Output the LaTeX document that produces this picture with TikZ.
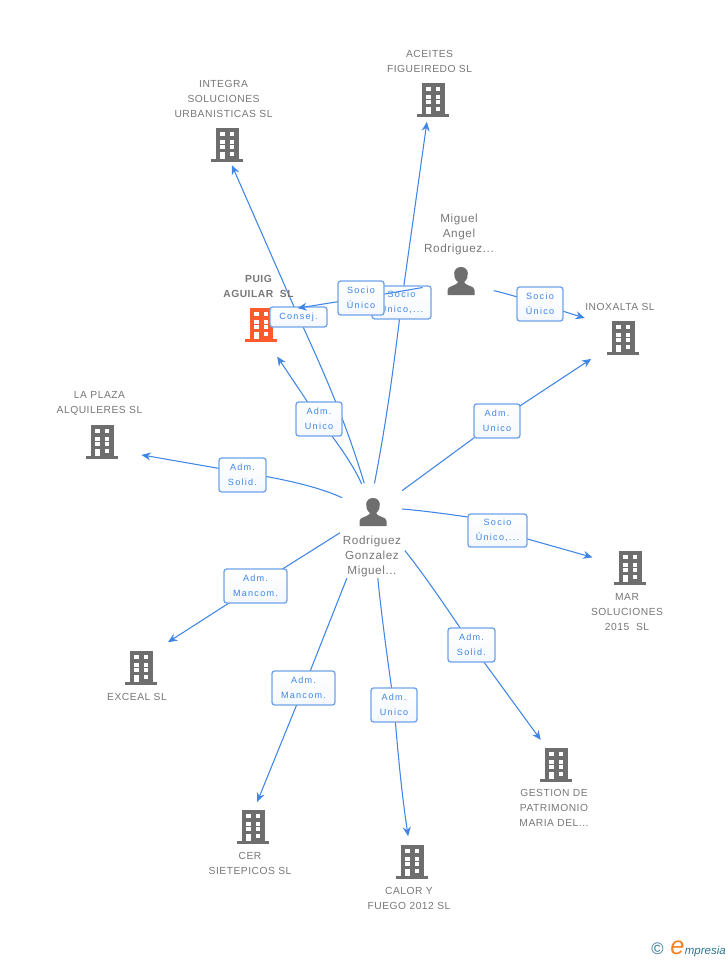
\documentclass[tikz,border=0pt]{standalone}
\usepackage{fontspec}
\usepackage{tikz}
\usetikzlibrary{arrows.meta,backgrounds,calc}
\setmainfont{Liberation Sans}
\newfontfamily\namefont[LetterSpace=5]{Liberation Sans}
\newfontfamily\tagfont[LetterSpace=14]{Liberation Sans}
\newfontfamily\logofont{Liberation Sans}
\definecolor{linkblue}{HTML}{3F86E6}
\definecolor{tagedge}{HTML}{6FA3EA}
\definecolor{icongray}{HTML}{6E6E6E}
\definecolor{namegray}{HTML}{777777}
\definecolor{puigred}{HTML}{FF5A2C}
\definecolor{logoteal}{HTML}{2F7491}
\definecolor{logoorange}{HTML}{F58220}
\tikzset{
	link/.style={draw=linkblue,line width=0.8pt,-{Stealth[length=7pt,width=6pt]}},
	gap/.style 2 args={shorten <=#1*0.75pt,shorten >=#2*0.75pt},
	iconbox/.style={inner sep=0pt,outer sep=0pt,minimum size=0pt},
	tagbox/.style 2 args={draw=tagedge,line width=1pt,rounded corners=2pt,top color=white,bottom color=white!94!linkblue,
		minimum width=#1*0.75pt,minimum height=#2*0.75pt,inner sep=0pt,align=center,text=linkblue,
		font=\tagfont\fontsize{6.8}{11.6}\selectfont},
	nametext/.style={align=center,text=namegray,inner sep=0pt,font=\namefont\fontsize{7.7}{11.25}\selectfont},
	persontext/.style={nametext,font=\namefont\fontsize{8.8}{11.25}\selectfont},
	pics/building/.style={code={
		\fill[#1] (-11,-17) rectangle (11.5,15);
		\fill[#1] (-16,14) rectangle (16,17);
		\fill[white] (-7,-13) rectangle (-2.5,-9);
		\fill[white] (2.7,-13) rectangle (7,-9);
		\fill[white] (-7,-5.5) rectangle (-2.5,-1.5);
		\fill[white] (2.7,-5.5) rectangle (7,-1.5);
		\fill[white] (-7,0) rectangle (-2.5,4);
		\fill[white] (2.7,0) rectangle (7,4);
		\fill[white] (-7,7) rectangle (-2.5,14);
		\fill[white] (2.7,7) rectangle (7,11);
	}},
	pics/person/.style={code={
		\fill[#1] (-13.5,14) -- (-13.5,9) .. controls (-13.5,5) and (-6,5) .. (-3.5,2)
			-- (-3.5,0.5) .. controls (-8.5,-3) and (-8.5,-14) .. (0,-14)
			.. controls (8.5,-14) and (8.5,-3) .. (3.5,0.5) -- (3.5,2)
			.. controls (6,5) and (13.5,5) .. (13.5,9) -- (13.5,14) -- cycle;
	}},
}
\begin{document}
\begin{tikzpicture}[x=0.75pt,y=-0.75pt]
	\useasboundingbox (0,0) rectangle (728,960);
	% icons
	\foreach \iname/\ix/\iy in {iIntegra/227/145,iAceites/433/100,iInoxalta/623/338,iPlaza/102/442,iMar/630/568,iExceal/141/668,iCer/253/827,iCalor/412/862,iGestion/556/765}{
		\node[iconbox] (\iname) at (\ix,\iy) {};
		\pic at (\iname) {building=icongray};
	}
	\node[iconbox] (iPuig) at (261,325) {};
	\pic at (iPuig) {building=puigred};
	\node[iconbox] (iRodriguez) at (373,512) {};
	\pic at (iRodriguez) {person=icongray};
	\node[iconbox] (iMiguel) at (461,281) {};
	\pic at (iMiguel) {person=icongray};
	% names
	\node[nametext] (nIntegra) at (223.5,99) {INTEGRA\\SOLUCIONES\\URBANISTICAS SL};
	\node[nametext] (nAceites) at (429.5,61.5) {ACEITES\\FIGUEIREDO SL};
	\node[persontext] (nMiguel) at (459,234) {Miguel\\Angel\\Rodriguez...};
	\node[nametext,font=\namefont\bfseries\fontsize{7.7}{11.25}\selectfont] (nPuig) at (258.5,286.5) {PUIG\\AGUILAR\ \ SL};
	\node[nametext] (nInoxalta) at (620,307) {INOXALTA SL};
	\node[nametext] (nPlaza) at (99.5,403.5) {LA PLAZA\\ALQUILERES SL};
	\node[persontext] (nRodriguez) at (372,556) {Rodriguez\\Gonzalez\\Miguel...};
	\node[nametext] (nMar) at (627,612) {MAR\\SOLUCIONES\\2015\ \ SL};
	\node[nametext] (nExceal) at (137,697) {EXCEAL SL};
	\node[nametext] (nCer) at (250,863.5) {CER\\SIETEPICOS SL};
	\node[nametext] (nCalor) at (409,898.5) {CALOR Y\\FUEGO 2012 SL};
	\node[nametext] (nGestion) at (554,808) {GESTION DE\\PATRIMONIO\\MARIA DEL...};
	% tags
	\node[tagbox={59}{33}] (tAceites) at (401.5,302.5) {Socio\\Único,...};
	\node[tagbox={57}{20}] (tIntegra) at (298.5,317) {Consej.};
	\node[tagbox={46}{34}] (tPuig) at (319,419) {Adm.\\Unico};
	\node[tagbox={47}{34}] (tPlaza) at (242.5,475) {Adm.\\Solid.};
	\node[tagbox={46}{34}] (tInoxalta) at (497,421) {Adm.\\Unico};
	\node[tagbox={59}{33}] (tMar) at (497.5,530.5) {Socio\\Único,...};
	\node[tagbox={63}{34}] (tExceal) at (255.5,586) {Adm.\\Mancom.};
	\node[tagbox={63}{34}] (tCer) at (303.5,688) {Adm.\\Mancom.};
	\node[tagbox={46}{34}] (tCalor) at (394,705) {Adm.\\Unico};
	\node[tagbox={47}{34}] (tGestion) at (471.5,645) {Adm.\\Solid.};
	\node[tagbox={46}{34}] (tMiguel) at (540,304) {Socio\\Único};
	\begin{scope}[on background layer]
		\draw[link,gap={29}{22}] ($(iRodriguez)+(-4,0)$) to[bend right=2] (tAceites.center) -- ($(iAceites)+(-3,0)$);
		\draw[link,gap={30}{22}] (iRodriguez) to[bend right=4] (tIntegra.center) -- ($(iIntegra)+(-4,0)$);
		\draw[link,gap={30}{38}] (iRodriguez) to[bend right=8] (tPuig.center) -- ($(iPuig)+(-5,0)$);
		\draw[link,gap={34}{40}] (iRodriguez) to[bend right=8] ($(tPlaza)+(0,-2.5)$) -- ($(iPlaza)+(0,6)$);
		\draw[link,gap={36}{38}] (iRodriguez) -- (tInoxalta.center) -- (iInoxalta);
		\draw[link,gap={29}{39}] ($(iRodriguez)+(0,-5.5)$) to[bend left=2] ($(tMar)+(0,-9)$) -- (tMar.center) -- (iMar);
		\draw[link,gap={39}{32}] (iRodriguez) -- (tExceal.center) -- ($(iExceal)+(0,-8.5)$);
		\draw[link,gap={71}{27}] (iRodriguez) -- (tCer.center) -- ($(iCer)+(-6,0)$);
		\draw[link,gap={66}{26}] (iRodriguez) to[bend right=2] (tCalor.center) to[bend right=2] (iCalor);
		\draw[link,gap={50}{31}] (iRodriguez) to[bend left=3] (tGestion.center) -- ($(iGestion)+(3,0)$);
		\draw[link,gap={33}{40}] ($(iMiguel)+(0,6)$) to[bend left=6] (tMiguel.center) -- ($(iInoxalta)+(0,-8)$);
	\end{scope}
	% this one runs over the tag behind it
	\coordinate (cSocio) at (361,298);
	\draw[link,gap={39}{37}] (iMiguel) -- (cSocio) -- ($(iPuig)+(0,-11)$);
	\node[tagbox={46}{34}] (tSocio) at (cSocio) {Socio\\Único};
	% logo
	\node[inner sep=0pt,text=logoteal,font=\logofont\fontsize{12.5}{12.5}\selectfont] (lCopy) at (657.5,949) {©};
	\node[inner sep=0pt,anchor=base west,text=logoorange,font=\logofont\itshape\fontsize{19}{19}\selectfont] (lLetter) at (670,954) {e};
	\node[inner sep=0pt,anchor=base west,text=logoteal,font=\logofont\itshape\fontsize{8.6}{10}\selectfont] (lWord) at (lLetter.base east) {mpresia};
\end{tikzpicture}
\end{document}
